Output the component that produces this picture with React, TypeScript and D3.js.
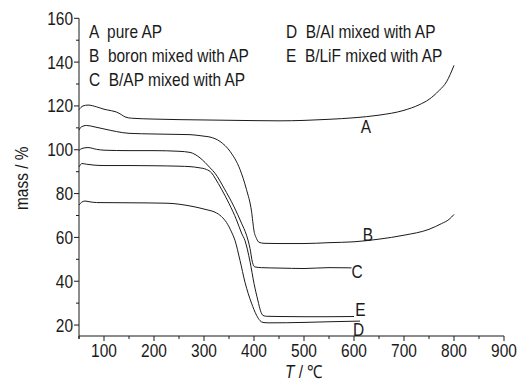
import React, { useEffect, useRef } from 'react';
import * as d3 from 'd3';

// TG curves, temperature (°C) vs mass (%)
const tempA = [50, 58, 68, 85, 100, 115, 125, 135, 142, 155, 200, 300, 400, 450, 500, 550, 600, 650, 700, 730, 750, 770, 785, 800];
const massA = [118.3, 120, 120.4, 119.6, 118.5, 117.8, 117.2, 116, 115, 114.4, 114, 113.6, 113.3, 113.2, 113.4, 113.9, 114.6, 115.8, 118, 120.5, 123, 127, 131, 138.5];

const tempB = [50, 55, 65, 80, 100, 125, 150, 200, 250, 272, 300, 312, 332, 352, 372, 385, 395, 400, 405, 410, 420, 450, 500, 550, 600, 650, 700, 750, 775, 790, 800];
const massB = [109, 110.5, 111.1, 110.5, 109.5, 108.3, 107.5, 107.2, 107, 106.9, 106.2, 105.8, 103.8, 99.3, 91, 81.8, 72, 63, 59.5, 57.8, 57.3, 57.2, 57.2, 57.6, 58, 59.2, 61, 63.7, 66.3, 68.2, 70.5];

const tempC = [50, 56, 68, 85, 100, 150, 200, 250, 272, 292, 312, 322, 340, 360, 375, 385, 392, 397, 402, 415, 450, 500, 550, 595];
const massC = [99.6, 100.6, 101, 100.2, 99.8, 99.6, 99.6, 99.3, 98.8, 96.3, 91.8, 89.3, 82.5, 74, 66.5, 61, 55, 48.5, 46.5, 46.2, 46, 45.8, 46.2, 46.1];

const tempD = [50, 56, 65, 80, 100, 150, 200, 250, 272, 290, 305, 315, 322, 335, 350, 365, 375, 382, 392, 400, 408, 413, 418, 425, 450, 500, 550, 600];
const massD = [92.2, 93.7, 93.4, 93, 92.8, 92.8, 92.7, 92.5, 92.3, 91.8, 91, 89.5, 87.1, 82, 75.5, 68, 62, 58.5, 49, 39, 31, 26.5, 24.4, 24, 23.9, 23.8, 23.8, 23.9];

const tempE = [50, 55, 62, 70, 85, 150, 226, 266, 290, 306, 322, 335, 345, 355, 362, 372, 382, 395, 405, 412, 418, 430, 500, 550, 612];
const massE = [74.8, 76, 76.6, 76.3, 75.9, 75.8, 75.6, 74.6, 73.5, 72.6, 71.5, 69.5, 66.8, 62.5, 58.6, 49.5, 39.5, 30, 24.5, 22, 21.2, 21, 21.2, 21.5, 21.8];

const seriesKeys = ['A', 'B', 'C', 'D', 'E'];
const legendLeft = ['A  pure AP', 'B  boron mixed with AP', 'C  B/AP mixed with AP'];
const legendRight = ['D  B/Al mixed with AP', 'E  B/LiF mixed with AP'];

// label anchor points next to curve ends [T, mass]
const labelT = [624, 628, 606, 609, 613];
const labelM = [107.6, 58.5, 41.5, 15, 24];

const xTicks = [100, 200, 300, 400, 500, 600, 700, 800, 900];
const xMinor = [50, 150, 250, 350, 450, 550, 650, 750, 850];
const yTicks = [20, 40, 60, 80, 100, 120, 140, 160];
const yMinor = [30, 50, 70, 90, 110, 130, 150];

const FONT = "'Liberation Sans', Arial, sans-serif";
const SQUEEZE = 0.86; // reference uses a condensed face

const App = () => {
  const ref = useRef(null);

  useEffect(() => {
    const width = 523, height = 385;
    d3.select(ref.current).selectAll('*').remove();

    const svg = d3.select(ref.current)
      .append('svg')
      .attr('width', width)
      .attr('height', height)
      .style('position', 'absolute')
      .style('left', 0)
      .style('top', 0)
      .style('background', '#fff');

    const x = d3.scaleLinear().domain([50, 900]).range([79, 504]);
    const y = d3.scaleLinear().domain([15, 160]).range([336, 18.3]);

    const ink = '#1a1a1a';
    const fs = 18;

    const addText = (px, py, str, anchor = 'start', rot = 0) => {
      const t = svg.append('text')
        .attr('transform', `translate(${px},${py})${rot ? ` rotate(${rot})` : ''} scale(${SQUEEZE},1)`)
        .attr('text-anchor', anchor)
        .style('font-family', FONT)
        .style('font-size', fs + 'px')
        .style('white-space', 'pre')
        .attr('fill', ink);
      if (str !== null) t.text(str);
      return t;
    };

    // axes lines
    svg.append('line')
      .attr('x1', x(50)).attr('x2', x(900))
      .attr('y1', y(15)).attr('y2', y(15))
      .attr('stroke', ink).attr('stroke-width', 1);
    svg.append('line')
      .attr('x1', x(50)).attr('x2', x(50))
      .attr('y1', y(15) + 3).attr('y2', y(160))
      .attr('stroke', ink).attr('stroke-width', 1);

    // x ticks
    svg.selectAll('.xt').data(xTicks).enter().append('line')
      .attr('x1', d => x(d)).attr('x2', d => x(d))
      .attr('y1', y(15)).attr('y2', y(15) + 5)
      .attr('stroke', ink);
    svg.selectAll('.xm').data(xMinor).enter().append('line')
      .attr('x1', d => x(d)).attr('x2', d => x(d))
      .attr('y1', y(15)).attr('y2', y(15) + 3)
      .attr('stroke', ink);
    xTicks.forEach(d => addText(x(d), y(15) + 21, String(d), 'middle'));

    // y ticks
    svg.selectAll('.yt').data(yTicks).enter().append('line')
      .attr('x1', x(50) - 5).attr('x2', x(50))
      .attr('y1', d => y(d)).attr('y2', d => y(d))
      .attr('stroke', ink);
    svg.selectAll('.ym').data(yMinor).enter().append('line')
      .attr('x1', x(50) - 3).attr('x2', x(50))
      .attr('y1', d => y(d)).attr('y2', d => y(d))
      .attr('stroke', ink);
    yTicks.forEach(d => addText(x(50) - 6, y(d) + 6.5, String(d), 'end'));

    // axis titles
    addText(28, y(87), 'mass / %', 'middle', -90);
    const xt = addText(x(500), 378, null, 'middle');
    xt.append('tspan').style('font-style', 'italic').text('T');
    xt.append('tspan').text(' / ℃');

    // curves
    const temps = [tempA, tempB, tempC, tempD, tempE];
    const masses = [massA, massB, massC, massD, massE];
    const line = d3.line()
      .x(d => x(d[0]))
      .y(d => y(d[1]))
      .curve(d3.curveMonotoneX);

    seriesKeys.forEach((k, i) => {
      const pts = temps[i].map((t, j) => [t, masses[i][j]]);
      svg.append('path')
        .datum(pts)
        .attr('d', line)
        .attr('fill', 'none')
        .attr('stroke', ink)
        .attr('stroke-width', 1);
      addText(x(labelT[i]), y(labelM[i]), k, 'middle');
    });

    // legend
    legendLeft.forEach((d, i) => addText(89, 38 + i * 24, d));
    legendRight.forEach((d, i) => addText(286, 38 + i * 24, d));
  }, []);

  return <div ref={ref} />;
};

export default App;
